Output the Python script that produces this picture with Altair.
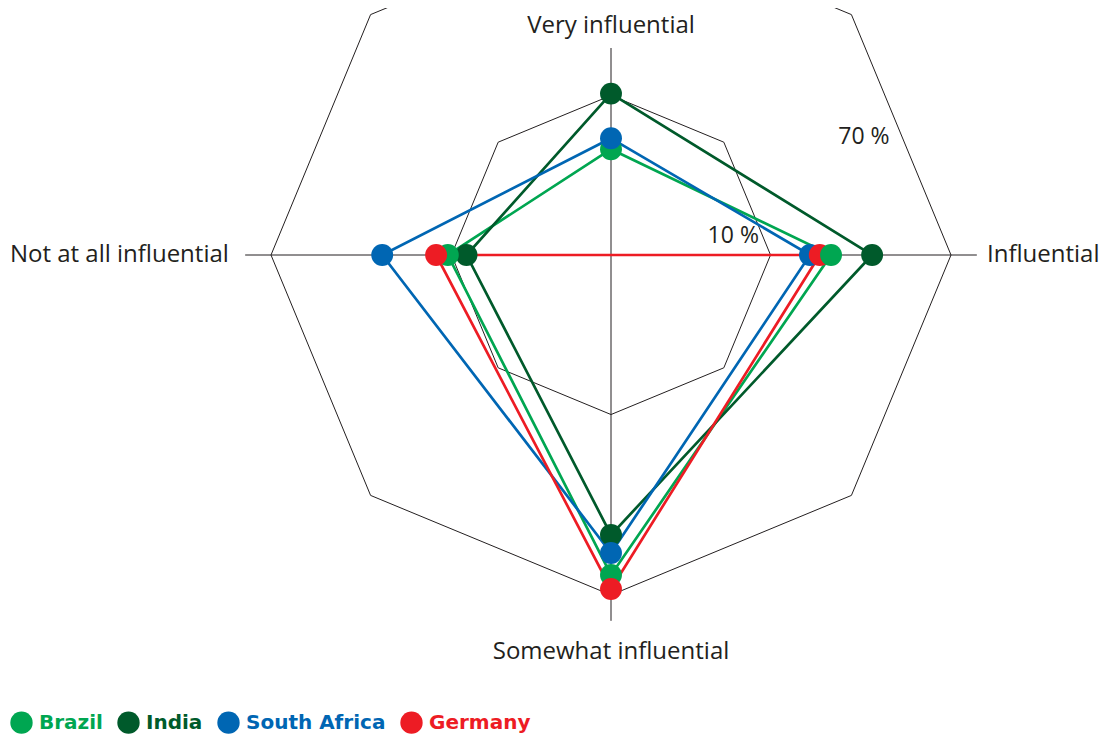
import altair as alt
import pandas as pd

# ---------------- data ----------------
categories = ["Very influential", "Influential", "Somewhat influential", "Not at all influential"]
countries = ["Brazil", "India", "South Africa", "Germany"]
palette = ["#00a651", "#005a2b", "#0066b3", "#ed1c24"]

brazil = [5.6, 19.2, 56.4, 10.4]
india = [10.2, 29.9, 36.6, 8.5]
south_africa = [6.3, 15.3, 44.5, 21.1]
germany = [None, 17.0, 65.6, 11.8]

ring_values = [10, 70]
ring_texts = ["10 %", "70 %"]

# ---------------- layout constants ----------------
LOG_MIN = 1.79      # radial (log) scale: value at centre
LOG_MAX = 70        # value at outer ring
UNIT = 340          # px per radial unit
W, H = 1096, 726
CX, CY = 603, 247   # centre inside the view
TOP_LABEL = (CY - 18) / UNIT
TOP_SPOKE = (CY - 40) / UNIT
SPOKE_LEN = 1.076
TEXT = "#231f20"
FONT = "Open Sans"
LEG_FONT = "DejaVu Sans"
FS = 24

xscale = alt.Scale(domain=[-CX / UNIT, (W - CX) / UNIT], nice=False, zero=False)
yscale = alt.Scale(domain=[-(H - CY) / UNIT, CY / UNIT], nice=False, zero=False)
X = lambda f: alt.X(f, scale=xscale, axis=None)
Y = lambda f: alt.Y(f, scale=yscale, axis=None)

def radial(field):
    return f"log(datum.{field}/{LOG_MIN})/log({LOG_MAX}/{LOG_MIN})"

# series table (closed polygons, skipping missing values)
rows = []
for name, vals in zip(countries, [brazil, india, south_africa, germany]):
    pts = [(i, v) for i, v in enumerate(vals) if v is not None]
    for s, (i, v) in enumerate(pts + pts[:1]):
        rows.append(dict(country=name, idx=i, category=categories[i], value=v,
                         seq=s, closing=bool(s == len(pts))))
series = pd.DataFrame(rows)

# ---------------- grid ----------------
grid_df = pd.DataFrame([dict(ring=v, k=k) for v in ring_values for k in range(9)])
grid = alt.Chart(grid_df).transform_calculate(
    r=radial("ring"), a="datum.k*PI/4"
).transform_calculate(
    x="datum.r*sin(datum.a)", y="datum.r*cos(datum.a)"
).mark_line(stroke=TEXT, strokeWidth=1, clip=True).encode(
    x=X("x:Q"), y=Y("y:Q"), detail="ring:N", order="k:Q"
)

spoke_df = pd.DataFrame({"idx": list(range(len(categories)))})
spokes = alt.Chart(spoke_df).transform_calculate(
    a="datum.idx*PI/2", x0="0", y0="0"
).transform_calculate(
    x2=f"{SPOKE_LEN}*sin(datum.a)",
    y2=f"min({SPOKE_LEN}*cos(datum.a), {TOP_SPOKE})",
).mark_rule(stroke=TEXT, strokeWidth=1).encode(
    x=X("x0:Q"), y=Y("y0:Q"), x2="x2:Q", y2="y2:Q"
)

# ring labels
ring_df = pd.DataFrame({"ring": ring_values, "text": ring_texts})
ring_labels = alt.Chart(ring_df).transform_calculate(
    r=radial("ring"),
    phi="(datum.ring < 50 ? 82.5 : 67) * PI / 180",
    f="datum.ring < 50 ? 0.935 : 0.89",
).transform_calculate(
    x="datum.f*datum.r*sin(datum.phi)", y="datum.f*datum.r*cos(datum.phi)"
).mark_text(align="right", baseline="middle", font=FONT, fontSize=23, color=TEXT).encode(
    x=X("x:Q"), y=Y("y:Q"), text="text:N"
)

# category labels
cat_df = pd.DataFrame({"category": categories, "idx": list(range(len(categories)))})
cat_base = alt.Chart(cat_df).transform_calculate(
    a="datum.idx*PI/2",
    rr="datum.idx == 1 ? 1.106 : (datum.idx == 3 ? 1.124 : 1.168)",
).transform_calculate(
    x="datum.rr*sin(datum.a)", y=f"min(datum.rr*cos(datum.a), {TOP_LABEL})"
)
def cat_text(filt, align):
    return cat_base.transform_filter(filt).mark_text(
        align=align, baseline="middle", font=FONT, fontSize=FS, color=TEXT
    ).encode(x=X("x:Q"), y=Y("y:Q"), text="category:N")

cat_center = cat_text("datum.idx % 2 == 0", "center")
cat_right = cat_text("datum.idx == 1", "left")
cat_left = cat_text("datum.idx == 3", "right")

# ---------------- series ----------------
base = alt.Chart(series).transform_calculate(
    r=radial("value"), a="datum.idx*PI/2"
).transform_calculate(
    x="datum.r*sin(datum.a)", y="datum.r*cos(datum.a)"
)

color_expr = "".join(
    f"datum.label == '{c}' ? '{p}' : " for c, p in zip(countries[:-1], palette[:-1])
) + f"'{palette[-1]}'"

legend = alt.Legend(
    title=None, orient="none", legendX=2, legendY=703, direction="horizontal", columns=4,
    symbolType="circle", symbolSize=500, symbolStrokeWidth=0, symbolOpacity=1,
    labelFont=LEG_FONT, labelFontSize=20, labelFontWeight="bold",
    labelColor=alt.ExprRef(color_expr), labelOffset=6, columnPadding=14, padding=0,
)
cscale = alt.Scale(domain=countries, range=palette)

lines = base.mark_line(strokeWidth=2.7).encode(
    x=X("x:Q"), y=Y("y:Q"),
    stroke=alt.Stroke("country:N", scale=cscale, legend=legend),
    detail="country:N",
    order=alt.Order("seq:Q"),
)

points = base.transform_filter("!datum.closing").mark_circle(size=480, opacity=1).encode(
    x=X("x:Q"), y=Y("y:Q"),
    fill=alt.Fill("country:N", scale=cscale, legend=legend),
    order=alt.Order("value:Q", sort="ascending"),
)

chart = alt.layer(
    grid, spokes, ring_labels, cat_center, cat_right, cat_left, lines, points
).properties(
    width=W, height=H, padding=0, autosize=alt.AutoSizeParams(type="none")
).configure_view(stroke=None)

chart.save("out.html", embed_options={"renderer": "svg", "actions": False})
